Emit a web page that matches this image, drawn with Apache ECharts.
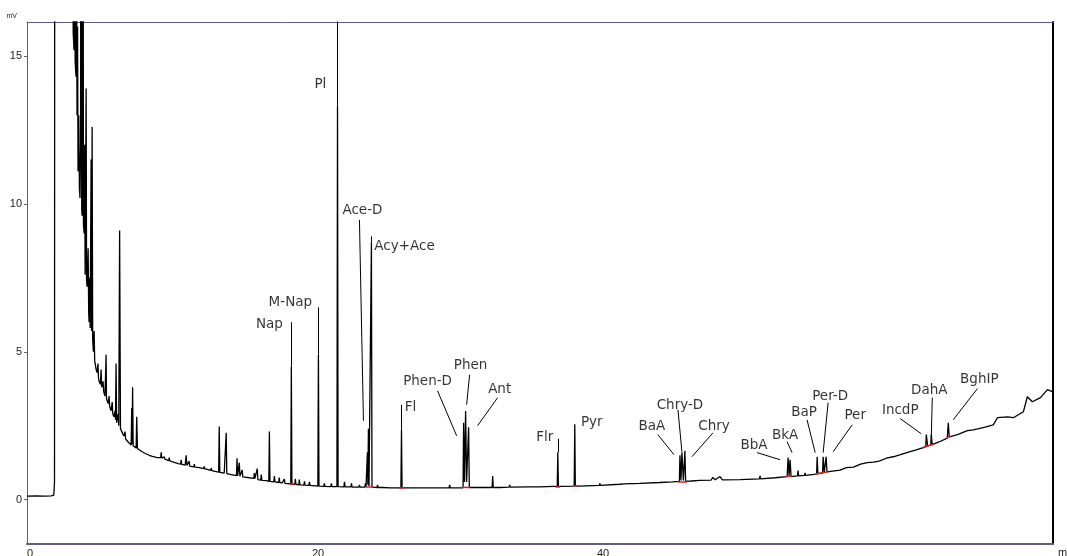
<!DOCTYPE html>
<html><head><meta charset="utf-8">
<script src="https://cdn.jsdelivr.net/npm/echarts@6/dist/echarts.min.js"></script>
<style>html,body{margin:0;padding:0;background:#fff}#c{width:1067px;height:556px}</style>
</head><body><div id="c"></div>
<script>
// ---- axis ticks ----
const yTickValues = [0, 5, 10, 15];
const xTickValues = [0, 20, 40];

// ---- chromatogram trace [time(min), signal(mV)] ----
const trace = [
[0.00,0.12],[0.60,0.13],[1.20,0.12],[1.70,0.13],[1.88,0.15],[1.93,0.6],[1.96,40],
[3.15,40],[3.16,16.3],[3.20,30],[3.24,15.8],[3.30,15.2],[3.34,20],[3.38,14.8],[3.44,14.3],[3.48,18],[3.51,13.0],[3.55,16],
[3.58,11.1],[3.63,13],[3.68,10.5],[3.72,10.2],[3.76,12],[3.80,40],[3.84,9.8],[3.87,9.6],[3.91,40],[3.96,9.3],[4.01,9.0],
[4.04,12],[4.08,7.6],[4.15,13.9],[4.18,7.4],[4.22,7.2],[4.29,8.5],[4.33,6.3],[4.36,6.0],[4.40,7.5],[4.43,5.8],[4.50,11.5],
[4.53,5.7],[4.57,12.6],[4.61,5.4],[4.66,5.0],[4.71,5.7],[4.75,4.7],[4.85,4.4],[4.92,4.3],[4.98,4.6],[5.02,4.1],[5.06,4.0],
[5.15,3.9],[5.20,4.4],[5.24,3.8],[5.30,3.75],[5.34,4.0],[5.38,3.65],[5.47,3.5],[5.55,4.9],[5.58,3.4],[5.70,3.25],[5.76,3.5],
[5.80,3.15],[5.90,3.0],[5.98,3.3],[6.02,2.9],[6.10,2.8],[6.18,3.0],[6.21,2.7],[6.25,4.6],[6.29,2.6],[6.35,2.55],[6.40,2.9],
[6.44,2.5],[6.50,9.1],[6.56,2.42],[6.60,2.35],[6.70,2.25],[6.80,2.15],[6.88,2.3],[6.92,2.05],[6.96,2.0],[7.10,1.95],[7.20,1.9],
[7.31,1.85],[7.35,3.1],[7.38,1.88],[7.41,3.8],[7.45,1.82],[7.55,1.78],[7.66,1.75],[7.70,2.8],[7.75,1.73],[7.90,1.68],[8.08,1.62],
[8.30,1.56],[8.57,1.5],[8.80,1.46],[9.14,1.42],[9.38,1.42],[9.42,1.6],[9.46,1.4],[9.60,1.38],[9.63,1.45],[9.67,1.37],[9.77,1.35],
[9.95,1.32],[9.98,1.42],[10.02,1.31],[10.33,1.26],[10.60,1.22],[10.78,1.2],[10.82,1.35],[10.86,1.19],[10.95,1.18],[11.10,1.17],
[11.17,1.5],[11.22,1.16],[11.35,1.14],[11.38,1.3],[11.42,1.13],[11.52,1.12],[11.70,1.11],[11.74,1.2],[11.78,1.1],[12.09,1.08],
[12.40,1.05],[12.44,1.12],[12.48,1.04],[12.65,1.02],[12.90,0.99],[12.93,1.07],[12.97,0.98],[13.28,0.95],[13.45,0.93],[13.49,2.47],
[13.53,0.92],[13.84,0.9],[13.94,0.89],[13.98,2.26],[14.02,0.88],[14.41,0.84],[14.70,0.81],[14.74,1.4],[14.78,0.8],[14.86,0.8],
[14.90,1.25],[14.94,0.79],[15.06,0.78],[15.10,1.0],[15.14,0.77],[15.60,0.74],[15.92,0.72],[15.95,0.9],[15.99,0.71],[16.12,0.69],
[16.16,1.05],[16.20,0.68],[16.40,0.66],[16.44,0.85],[16.48,0.65],[16.80,0.64],[16.97,0.62],[17.01,2.3],[17.05,0.62],[17.32,0.6],
[17.36,0.8],[17.40,0.6],[17.66,0.58],[17.70,0.75],[17.74,0.58],[17.92,0.57],[18.02,0.56],[18.06,0.7],[18.10,0.55],[18.51,0.53],
[18.55,4.5],[18.59,0.53],[18.80,0.52],[18.83,0.7],[18.87,0.52],[19.07,0.5],[19.11,0.68],[19.15,0.5],[19.43,0.49],[19.47,0.62],
[19.51,0.49],[19.78,0.48],[19.82,0.6],[19.86,0.48],[20.41,0.46],[20.45,4.9],[20.49,0.46],[20.83,0.45],[20.87,0.55],[20.91,0.45],
[21.32,0.44],[21.36,0.55],[21.40,0.44],[21.75,0.44],[21.79,13.3],[21.83,0.44],[22.24,0.43],[22.28,0.6],[22.32,0.43],[22.73,0.43],
[22.77,0.55],[22.81,0.42],[23.29,0.42],[23.33,0.5],[23.37,0.42],[23.71,0.42],[23.75,0.55],[23.79,0.42],[23.86,0.42],[23.89,1.6],
[23.92,0.5],[23.96,2.4],[24.00,0.45],[24.13,0.42],[24.17,8.7],[24.21,0.42],[24.56,0.41],[24.60,0.5],[24.64,0.41],[24.96,0.41],
[25.00,0.45],[25.04,0.41],[25.50,0.4],[26.24,0.4],[26.28,2.36],[26.32,0.4],[26.80,0.4],[26.84,0.45],[26.88,0.4],[27.55,0.4],
[28.21,0.4],[28.25,0.45],[28.29,0.4],[29.62,0.4],[29.66,0.5],[29.70,0.4],[30.36,0.4],[30.60,0.4],[30.64,2.6],[30.70,0.6],
[30.78,3.0],[30.85,0.6],[30.99,2.45],[31.04,0.41],[31.50,0.41],[32.30,0.41],[32.64,0.41],[32.68,0.8],[32.72,0.41],[33.17,0.41],
[33.83,0.42],[33.87,0.5],[33.91,0.42],[35.24,0.43],[35.28,0.48],[35.32,0.43],[35.98,0.43],[37.00,0.45],[37.21,0.45],[37.25,1.6],
[37.29,0.45],[38.40,0.46],[38.44,2.55],[38.48,0.46],[38.79,0.46],[40.16,0.48],[40.20,0.55],[40.24,0.48],[41.60,0.52],[41.91,0.53],
[41.95,0.58],[41.99,0.53],[43.00,0.55],[44.41,0.58],[45.30,0.6],[45.78,0.62],[45.82,1.5],[45.89,0.65],[45.96,1.6],[46.06,0.65],
[46.17,1.65],[46.22,0.62],[46.60,0.63],[47.22,0.65],[48.00,0.66],[48.14,0.75],[48.30,0.67],[48.63,0.78],[48.80,0.67],[50.04,0.68],
[51.40,0.7],[51.44,0.8],[51.48,0.7],[52.50,0.74],[53.34,0.78],[53.41,1.42],[53.48,0.8],[53.55,1.35],[53.62,0.78],[54.07,0.8],
[54.11,0.98],[54.15,0.8],[54.56,0.82],[54.60,0.9],[54.64,0.82],[55.41,0.86],[55.45,1.45],[55.50,0.88],[55.83,0.9],[55.87,1.45],
[55.95,0.92],[56.08,1.45],[56.14,0.94],[57.06,1.0],[57.50,1.08],[58.00,1.1],[58.50,1.2],[58.96,1.25],[59.40,1.27],[59.80,1.3],
[60.30,1.4],[60.79,1.45],[61.30,1.52],[61.80,1.6],[62.40,1.68],[62.90,1.76],[63.07,1.8],[63.11,2.2],[63.20,1.82],[63.42,1.84],
[63.46,2.2],[63.52,1.86],[64.00,1.95],[64.58,2.08],[64.65,2.6],[64.72,2.12],[65.30,2.2],[65.99,2.33],[66.40,2.36],[66.80,2.4],
[67.30,2.46],[67.81,2.53],[68.10,2.77],[68.80,2.8],[69.22,2.77],[69.92,2.97],[70.20,3.48],[70.55,3.31],[71.12,3.45],[71.61,3.72],
[71.96,3.65],[72.03,3.70]
];

// ---- compound labels: name, time, mV (label centre) ----
const labelNames = ['Nap','M-Nap','Pl','Ace-D','Acy+Ace','Fl','Phen-D','Phen','Ant','Flr','Pyr','BaA','Chry-D','Chry','BbA','BkA','BaP','Per-D','Per','IncdP','DahA','BghIP'];
const labelTimes = [17.01,18.48,20.59,23.54,26.49,26.92,28.11,31.13,33.17,36.33,39.63,43.85,45.82,48.21,51.02,53.20,54.53,56.36,58.12,61.28,63.32,66.83];
const labelValues = [5.91,6.66,14.05,9.76,8.55,3.11,3.99,4.53,3.72,2.09,2.60,2.47,3.18,2.47,1.82,2.16,2.94,3.48,2.84,3.00,3.68,4.05];

// ---- leader lines [t1, v1, t2, v2] ----
const leaders = [
[18.55,4.5,18.55,6.0],[20.45,4.9,20.45,6.5],[21.79,13.3,21.79,17],[23.33,9.46,23.61,2.67],[24.17,8.7,24.17,8.9],
[26.28,2.36,26.28,3.2],[28.81,3.68,30.15,2.16],[31.06,4.22,30.85,3.21],[33.03,3.45,31.62,2.5],[37.25,1.6,37.25,2.06],
[44.27,2.2,45.40,1.52],[45.68,3.04,45.96,1.62],[48.14,2.26,46.66,1.45],[51.23,1.59,52.85,1.35],[53.34,1.96,53.69,1.59],
[54.74,2.7,55.31,1.59],[56.22,3.28,55.87,1.59],[57.91,2.53,56.57,1.62],[61.28,2.74,62.75,2.23],[63.53,3.45,63.46,2.13],
[66.69,3.75,65.0,2.7]
];

// ---- red integration marks [t1, v1, t2, v2] ----
const redMarks = [
[18.40,0.53,18.70,0.52],[23.80,0.42,24.30,0.42],[26.10,0.40,26.45,0.40],[30.50,0.42,31.10,0.41],[37.10,0.45,37.40,0.45],
[38.30,0.46,38.60,0.46],[45.70,0.62,46.30,0.62],[53.20,0.78,53.70,0.80],[55.30,0.86,56.20,0.94],[62.90,1.76,63.60,1.87],
[64.50,2.07,64.80,2.14]
];

const X_MIN = 0, X_MAX = 72, Y_MIN = -1.5, Y_MAX = 16.15;
const axisCol = '#605e86';

const chart = echarts.init(document.getElementById('c'), null, {renderer:'canvas'});
chart.setOption({
  animation: false,
  backgroundColor: '#fff',
  grid: {left: 27, right: 14, top: 22, bottom: 12, containLabel: false, outerBoundsMode: 'none'},
  xAxis: [{
    type: 'value', min: X_MIN, max: X_MAX, position: 'bottom',
    name: 'min', nameLocation: 'end', nameGap: 5,
    nameTextStyle: {fontFamily: 'Liberation Sans', fontSize: 11, color: '#222', verticalAlign: 'top', align: 'left', padding: [3,0,0,0]},
    axisLine: {show: true, onZero: false, lineStyle: {color: axisCol, width: 2}},
    axisTick: {show: false},
    splitLine: {show: false},
    axisLabel: {customValues: xTickValues, fontFamily: 'Liberation Sans', fontSize: 11, color: '#222', margin: 4, align: 'left'}
  },{
    type: 'value', min: X_MIN, max: X_MAX, position: 'top',
    axisLine: {show: true, onZero: false, lineStyle: {color: axisCol, width: 1}},
    axisTick: {show: false}, axisLabel: {show: false}, splitLine: {show: false}
  }],
  yAxis: [{
    type: 'value', min: Y_MIN, max: Y_MAX, position: 'left',
    name: 'mV', nameLocation: 'end', nameGap: 2,
    nameTextStyle: {fontFamily: 'Liberation Sans', fontSize: 7, color: '#222', align: 'right', padding: [0,10,0,0]},
    axisLine: {show: true, onZero: false, lineStyle: {color: axisCol, width: 1}},
    axisTick: {show: true, customValues: yTickValues, length: 3, inside: false, lineStyle: {color: axisCol}},
    splitLine: {show: false},
    axisLabel: {customValues: yTickValues, fontFamily: 'Liberation Sans', fontSize: 11, color: '#222', margin: 5}
  },{
    type: 'value', min: Y_MIN, max: Y_MAX, position: 'right',
    axisLine: {show: true, onZero: false, lineStyle: {color: '#000', width: 2}},
    axisTick: {show: false}, axisLabel: {show: false}, splitLine: {show: false}
  }],
  series: [
    {
      type: 'line', data: trace, showSymbol: false, symbol: 'none', clip: true,
      lineStyle: {color: '#000', width: 1.3}, z: 3
    },
    {
      type: 'lines', coordinateSystem: 'cartesian2d', polyline: false, clip: true,
      data: leaders.map(l => ({coords: [[l[0], l[1]], [l[2], l[3]]]})),
      lineStyle: {color: '#000', width: 1, opacity: 1}, z: 4
    },
    {
      type: 'lines', coordinateSystem: 'cartesian2d', polyline: false, clip: true,
      data: redMarks.map(l => ({coords: [[l[0], l[1]], [l[2], l[3]]]})),
      lineStyle: {color: '#e0201c', width: 1.5, opacity: 1}, z: 5
    },
    {
      type: 'scatter', symbolSize: 0, silent: true,
      data: labelNames.map((n, i) => ({name: n, value: [labelTimes[i], labelValues[i]]})),
      label: {show: true, position: 'inside', formatter: p => p.name, color: '#000',
        fontFamily: 'DejaVu Sans', fontSize: 13.5, align: 'center', verticalAlign: 'middle'},
      z: 6
    }
  ]
});
</script></body></html>
